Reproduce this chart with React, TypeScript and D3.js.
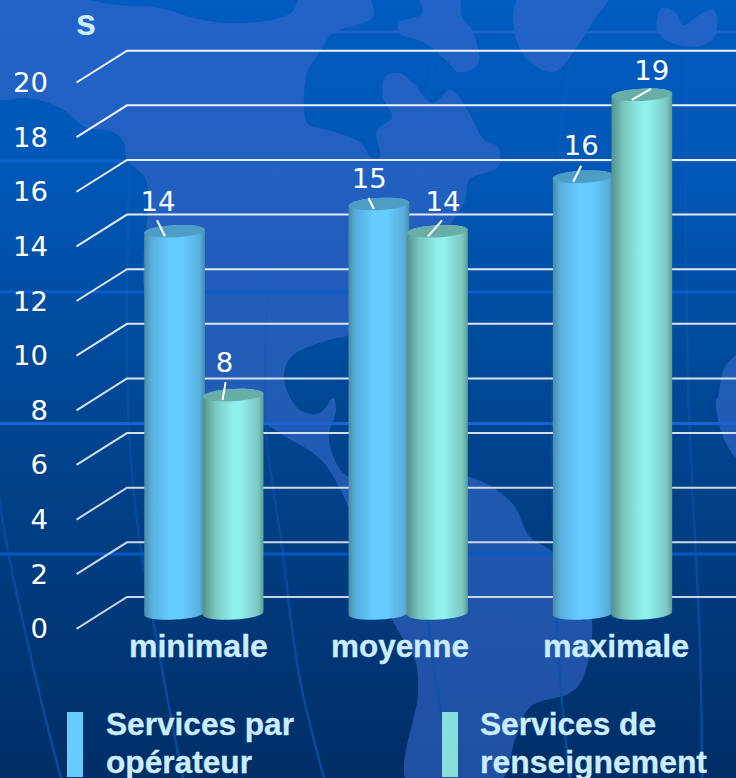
import React from "react";
import * as d3 from "d3";

const categories = ["minimale", "moyenne", "maximale"];
const seriesNames = ["Services par opérateur", "Services de renseignement"];
const operatorValues = [14, 15, 16];
const directoryValues = [8, 14, 19];
const yTicks = [0, 2, 4, 6, 8, 10, 12, 14, 16, 18, 20];

const W = 736, H = 778;

// decoration: world-map backdrop
type P = [number, number];
const landMain: P[] = [[0,-6],[52,-6],[117,5],[160,8],[202,20],[244,23],[291,13],[302,-6],[366,-6],[373,17],[357,25],[333,33],[319,53],[307,73],[307,123],[319,128],[338,133],[361,143],[371,157],[380,157],[376,133],[380,127],[392,117],[383,97],[385,77],[399,73],[413,83],[432,103],[451,90],[469,113],[484,140],[498,147],[498,167],[469,180],[465,200],[440,240],[400,300],[349,335],[329,340],[291,357],[284,380],[300,410],[320,413],[333,398],[336,410],[329,440],[350,478],[469,477],[512,503],[530,537],[554,553],[591,613],[582,680],[570,693],[530,707],[516,737],[498,784],[408,784],[418,693],[415,660],[394,623],[370,560],[324,463],[286,437],[263,423],[205,400],[146,300],[146,180],[127,160],[124,143],[113,132],[85,127],[61,108],[28,98],[-6,97]];
const landB: P[] = [[418,-6],[423,13],[399,23],[399,33],[423,42],[446,60],[458,72],[474,68],[479,60],[472,30],[462,17],[458,-6]];
const landC: P[] = [[521,-6],[514,30],[528,60],[554,72],[577,47],[596,17],[610,-6]];
const landD: P[] = [[662,8],[657,30],[671,43],[704,45],[716,33],[714,10],[704,12],[683,25],[676,13]];
const landE: P[] = [[742,353],[725,367],[718,397],[716,400],[723,437],[742,462]];
const lands = [landMain, landB, landC, landD, landE];
const meridians: P[][] = [
  [[-6,380],[0,503],[37,683],[61,778]],
  [[130,150],[127,380],[136,513],[164,680],[183,778]],
  [[277,150],[265,413],[282,547],[300,680],[324,778]],
  [[433,60],[423,160],[420,400],[427,613],[441,713],[451,778]],
  [[570,60],[560,143],[552,400],[556,613],[563,713],[570,778]],
  [[686,60],[688,380],[700,647],[702,778]],
];
const bandLines = [32, 161, 292, 423.5, 554];
const bandColors = ["#1f62c8", "#0e62d0", "#0a5ccc", "#1a63d2", "#0459c4"];

// layout of the chart
const yScale = d3.scaleLinear().domain([0, 20]).range([597, 50.7]);
const barHeightPerUnit = 27.3;
const baseY = 613.5;
const depthX = 50.5, depthY = 31.8;
const xBand = d3.scaleBand<string>().domain(categories).range([102, 715]).padding(0);
const barW = 60.8, rx = 30.4, ry = 6.1, tilt = -3;
const barOffsets = [-60, -1.4];
const fills = ["url(#blueBody)", "url(#tealBody)"];
const capFills = ["#4e9dc6", "#68ada8"];
const legendColors = ["#66ccff", "#88e0dc"];
// label anchors relative to bar centre: label dx, label dy, leader start/end
const labelPlacement: number[][][] = [
  [[-16.6, -20, -17.6, -11, -9.6, 5], [-8.6, -23, -7.6, -13, -10.6, 5]],
  [[-9.7, -16, -10.5, -6, -5, 5], [5.5, -20, 4.5, -11, -9.5, 5]],
  [[-2, -21.7, -2, -11, -10, 5], [10, -15, 9, -6, -10, 5]],
];
const categoryLabelShift = [-5.7, -8.5, 3.2];
const categoryLabelWidth = [139, 138, 146];
const gridLineColor = d3.scaleLinear<string>().domain([0, 20]).range(["#c9d3e2", "#f2f6fc"]);

const line = d3.line<P>().curve(d3.curveCatmullRomClosed.alpha(0.5));
const open = d3.line<P>().curve(d3.curveCatmullRom.alpha(0.5));

function cylinder(cx: number, topY: number) {
  const a = (tilt * Math.PI) / 180;
  const dx = rx * Math.cos(a), dy = rx * Math.sin(a);
  return `M${cx - dx},${topY - dy}L${cx - dx},${baseY - dy}A${rx},${ry} ${tilt} 0 0 ${cx + dx},${baseY + dy}L${cx + dx},${topY + dy}A${rx},${ry} ${tilt} 0 0 ${cx - dx},${topY - dy}Z`;
}

const boldText = { fontFamily: "'Liberation Sans', Arial, sans-serif", fontWeight: 700, fill: "#ccecff", fontSize: 31, stroke: "#ccecff", strokeWidth: 0.3 };
const numText = { fontFamily: "'DejaVu Sans', sans-serif", fill: "#ffffff", fontSize: 26, lengthAdjust: "spacingAndGlyphs" };
const numWidth = (v: number) => (String(v).length * 17.5);

export default function App() {
  const values = [operatorValues, directoryValues];
  return (
    <svg width={W} height={H} viewBox={`0 0 ${W} ${H}`} style={{ position: "absolute", left: 0, top: 0, display: "block" }}>
      <defs>
        <linearGradient id="ocean" x1="0" y1="0" x2="0" y2="1">
          <stop offset="0" stopColor="#005cc0" />
          <stop offset="0.25" stopColor="#0056b4" />
          <stop offset="0.55" stopColor="#004590" />
          <stop offset="1" stopColor="#002e66" />
        </linearGradient>
        <linearGradient id="land" gradientUnits="userSpaceOnUse" x1="0" y1="0" x2="0" y2="778">
          <stop offset="0" stopColor="#2263c8" />
          <stop offset="0.5" stopColor="#215cb6" />
          <stop offset="1" stopColor="#1f50a2" />
        </linearGradient>
        <linearGradient id="meridian" gradientUnits="userSpaceOnUse" x1="0" y1="100" x2="0" y2="778">
          <stop offset="0" stopColor="#1f66cc" stopOpacity="0.1" />
          <stop offset="0.55" stopColor="#0b55b0" stopOpacity="0.5" />
          <stop offset="1" stopColor="#0a51a8" stopOpacity="0.85" />
        </linearGradient>
        <linearGradient id="blueBody" x1="0" x2="1" y1="0" y2="0">
          <stop offset="0" stopColor="#4a8ba4" />
          <stop offset="0.12" stopColor="#58aedd" />
          <stop offset="0.42" stopColor="#66ccff" />
          <stop offset="0.62" stopColor="#66ccff" />
          <stop offset="0.92" stopColor="#58aedb" />
          <stop offset="1" stopColor="#468aa4" />
        </linearGradient>
        <linearGradient id="tealBody" x1="0" x2="1" y1="0" y2="0">
          <stop offset="0" stopColor="#55918c" />
          <stop offset="0.2" stopColor="#78c8c0" />
          <stop offset="0.5" stopColor="#90f0ec" />
          <stop offset="0.62" stopColor="#90f0ec" />
          <stop offset="0.92" stopColor="#7ac6c0" />
          <stop offset="1" stopColor="#5a9a94" />
        </linearGradient>
      </defs>

      <rect width={W} height={H} fill="url(#ocean)" />
      {lands.map((l, i) => <path key={i} d={line(l) ?? ""} fill="url(#land)" />)}
      {meridians.map((m, i) => <path key={i} d={open(m) ?? ""} fill="none" stroke="url(#meridian)" strokeWidth={2.5} />)}
      {bandLines.map((y, i) => (
        <rect key={y} x={0} y={y - 1.5} width={W} height={3} fill={bandColors[i]} />
      ))}

      {yTicks.map((t) => {
        const y = yScale(t);
        const x0 = 76.5, x1 = x0 + depthX;
        return (
          <g key={t}>
            <polyline points={`${x0},${y + depthY} ${x1},${y} ${W},${y}`} fill="none" stroke={gridLineColor(t)} strokeWidth={2} />
            <text x={48} y={y + depthY + 9.5} textAnchor="end" {...numText} textLength={numWidth(t)}>{t}</text>
          </g>
        );
      })}
      <text x={76} y={35} fontFamily="'Liberation Sans', Arial, sans-serif" fontWeight={700} fontSize={36} fill="#ccecff">s</text>

      {categories.map((c, ci) => {
        const center = (xBand(c) ?? 0) + xBand.bandwidth() / 2;
        return (
          <g key={c}>
            {values.map((vals, si) => {
              const cx = center + barOffsets[si] + barW / 2;
              const topY = baseY - vals[ci] * barHeightPerUnit;
              return (
                <g key={si}>
                  <path d={cylinder(cx, topY)} fill={fills[si]} />
                  <ellipse cx={cx} cy={topY} rx={rx} ry={ry} fill={capFills[si]} transform={`rotate(${tilt} ${cx} ${topY})`} />
                </g>
              );
            })}
            {values.map((vals, si) => {
              const cx = center + barOffsets[si] + barW / 2;
              const topY = baseY - vals[ci] * barHeightPerUnit;
              const [lx, ly, x1, y1, x2, y2] = labelPlacement[ci][si];
              return (
                <g key={si}>
                  <line x1={cx + x1} y1={topY + y1} x2={cx + x2} y2={topY + y2} stroke="#ffffff" strokeWidth={2} />
                  <text x={cx + lx} y={topY + ly} textAnchor="middle" {...numText} textLength={numWidth(vals[ci])}>{vals[ci]}</text>
                </g>
              );
            })}
            <text x={center + categoryLabelShift[ci]} y={656.5} textAnchor="middle" {...boldText} textLength={categoryLabelWidth[ci]} lengthAdjust="spacingAndGlyphs">{c}</text>
          </g>
        );
      })}

      <rect x={67} y={712} width={16} height={65} fill={legendColors[0]} />
      <rect x={442} y={712} width={16} height={65} fill={legendColors[1]} />
      <text x={106} y={734.5} {...boldText} textLength={188} lengthAdjust="spacingAndGlyphs">{seriesNames[0].split(" ").slice(0, 2).join(" ")}</text>
      <text x={106} y={772.5} {...boldText} textLength={146} lengthAdjust="spacingAndGlyphs">{seriesNames[0].split(" ")[2]}</text>
      <text x={480} y={734.5} {...boldText} textLength={176} lengthAdjust="spacingAndGlyphs">{seriesNames[1].split(" ").slice(0, 2).join(" ")}</text>
      <text x={480} y={772.5} {...boldText} textLength={227} lengthAdjust="spacingAndGlyphs">{seriesNames[1].split(" ")[2]}</text>
    </svg>
  );
}
